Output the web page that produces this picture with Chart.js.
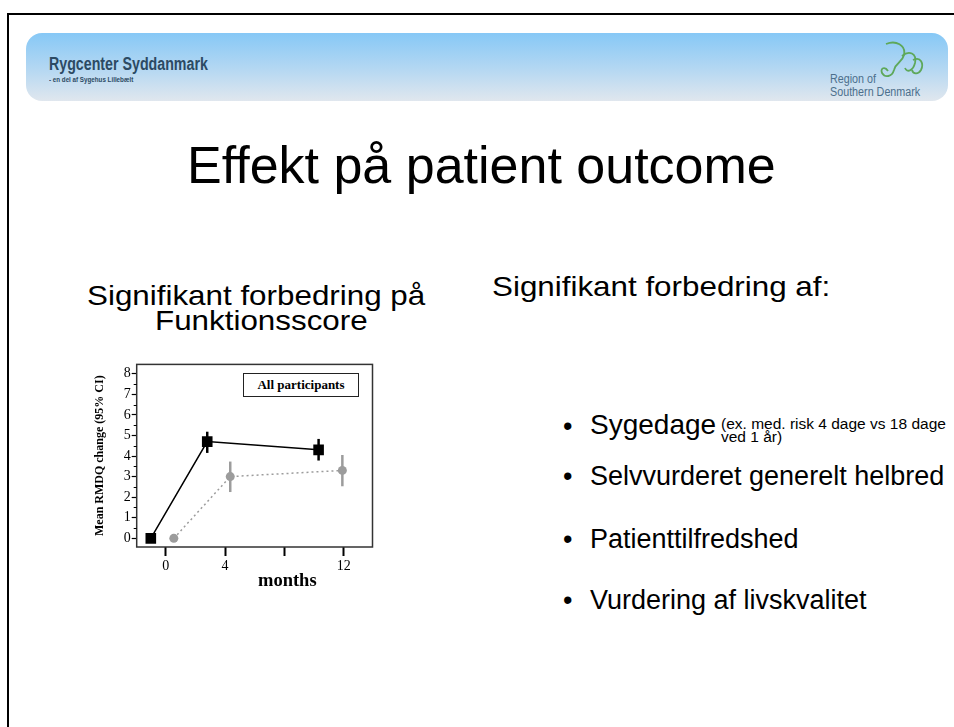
<!DOCTYPE html>
<html>
<head>
<meta charset="utf-8">
<script src="https://cdn.jsdelivr.net/npm/chart.js@4"></script>
<style>
  html, body { margin: 0; padding: 0; width: 954px; height: 727px; overflow: hidden; background: #fff; }
  body { position: relative; font-family: "Liberation Sans", Arial, sans-serif; color: #000; }
  .abs { position: absolute; white-space: nowrap; }
  .frame { position: absolute; left: 7px; top: 13px; width: 980px; height: 760px; border: 2px solid #000; }
  .banner {
    position: absolute; left: 26px; top: 33px; width: 922px; height: 68px; border-radius: 16px;
    background: linear-gradient(to bottom, #86c8f6 0%, #b6d8f2 55%, #e0e7ee 100%);
  }
  .sx { transform-origin: 0 0; }
  .head { font-size: 28px; line-height: 24px; transform: scaleX(1.12); transform-origin: 0 0; }
  .serif { font-family: "Liberation Serif", "Times New Roman", serif; font-weight: bold; }
</style>
</head>
<body>
<div class="frame"></div>
<div class="banner"></div>
<div class="abs sx" style="left:49px;top:54px;font-weight:bold;font-size:18px;line-height:20px;color:#2c4a63;transform:scaleX(0.79);">Rygcenter Syddanmark</div>
<div class="abs sx" style="left:49px;top:76px;font-weight:bold;font-size:6.5px;line-height:8px;color:#2c4a63;transform:scaleX(0.96);">- en del af Sygehus Lillebælt</div>
<div class="abs sx" style="left:830px;top:73px;font-size:12.5px;line-height:12px;color:#4c6f8c;transform:scaleX(0.86);">Region of</div>
<div class="abs sx" style="left:830px;top:86px;font-size:12.5px;line-height:12px;color:#4c6f8c;transform:scaleX(0.86);">Southern Denmark</div>
<svg class="abs" style="left:876px;top:40px" width="50" height="42" viewBox="0 0 50 42">
  <path d="M10 4 C20 0 30 5 28 15 C26 23 20 22 18 30 C16 37 9 38 6 33 C4 28 9 26 12 31" fill="none" stroke="#5ea85a" stroke-width="1.8"/>
  <path d="M26 16 C33 10 41 13 39 23 C37 31 31 33 29 28" fill="none" stroke="#5ea85a" stroke-width="1.8"/>
  <path d="M37 20 C45 16 48 24 45 30 C42 35 37 34 36 30" fill="none" stroke="#5ea85a" stroke-width="1.8"/>
</svg>

<div class="abs" style="left:187px;top:139px;font-size:52px;line-height:52px;">Effekt på patient outcome</div>

<div class="abs head" style="left:87px;top:284px;">Signifikant forbedring på</div>
<div class="abs head" style="left:155px;top:309px;">Funktionsscore</div>

<div class="abs head" style="left:492px;top:275px;">Signifikant forbedring af:</div>
<div class="abs" style="left:563px;top:412px;font-size:27px;line-height:28px;">•</div>
<div class="abs" style="left:590px;top:411px;font-size:28px;line-height:28px;">Sygedage</div>
<div class="abs" style="left:721px;top:418px;font-size:15.5px;line-height:12px;">(ex. med. risk 4 dage vs 18 dage</div>
<div class="abs" style="left:721px;top:431px;font-size:15.5px;line-height:12px;">ved 1 år)</div>
<div class="abs" style="left:563px;top:463px;font-size:27px;line-height:27px;">•</div>
<div class="abs" style="left:590px;top:463px;font-size:27px;line-height:27px;">Selvvurderet generelt helbred</div>
<div class="abs" style="left:563px;top:526px;font-size:27px;line-height:27px;">•</div>
<div class="abs" style="left:590px;top:526px;font-size:27px;line-height:27px;">Patienttilfredshed</div>
<div class="abs" style="left:563px;top:587px;font-size:27px;line-height:27px;">•</div>
<div class="abs" style="left:590px;top:587px;font-size:27px;line-height:27px;">Vurdering af livskvalitet</div>

<div class="abs" style="left:80px;top:355px;width:300px;height:240px;">
  <canvas id="rmdqChart" width="300" height="240"></canvas>
</div>
<div class="abs serif" style="left:243px;top:373px;width:114px;height:22px;border:1.5px solid #222;background:#fff;font-size:13px;line-height:22px;text-align:center;">All participants</div>
<div class="abs serif" style="left:258px;top:569px;font-size:18.5px;line-height:22px;">months</div>

<script>
// intervention group (black squares) - months offset slightly as in the figure
const blackX = [-1.0, 2.8, 10.3];
const blackY = [0, 4.7, 4.3];
const blackLo = [null, 4.15, 3.78];
const blackHi = [null, 5.18, 4.83];

// control group (grey circles)
const greyX = [0.55, 4.35, 11.9];
const greyY = [0, 3.0, 3.3];
const greyLo = [null, 2.25, 2.53];
const greyHi = [null, 3.73, 4.05];

const xTicks = [0, 4, 8, 12];
const xTickLabels = ['0', '4', '', '12'];
const yTicks = [0, 1, 2, 3, 4, 5, 6, 7, 8];

const toPoints = (xs, ys) => xs.map((x, i) => ({ x: x, y: ys[i] }));

// frame, minor y ticks and error bars
const extras = {
    id: 'extras',
    beforeDatasetsDraw(chart) {
        const c = chart.ctx;
        const a = chart.chartArea;
        const xs = chart.scales.x, ys = chart.scales.y;
        c.save();
        c.strokeStyle = '#333';
        c.lineWidth = 1.5;
        c.strokeRect(a.left, a.top, a.right - a.left, a.bottom - a.top);
        c.lineWidth = 1;
        c.strokeStyle = '#000';
        for (let v = 0.5; v < 8.4; v += 1) {
            const py = Math.round(ys.getPixelForValue(v)) + 0.5;
            c.beginPath();
            c.moveTo(a.left - 3, py);
            c.lineTo(a.left, py);
            c.stroke();
        }
        const bars = [
            [blackX, blackLo, blackHi, '#000'],
            [greyX, greyLo, greyHi, '#9c9c9c']
        ];
        c.lineWidth = 2.5;
        bars.forEach(([xv, lo, hi, col]) => {
            c.strokeStyle = col;
            xv.forEach((x, i) => {
                if (lo[i] == null) return;
                const px = xs.getPixelForValue(x);
                c.beginPath();
                c.moveTo(px, ys.getPixelForValue(lo[i]));
                c.lineTo(px, ys.getPixelForValue(hi[i]));
                c.stroke();
            });
        });
        c.restore();
    }
};

const ctx = document.getElementById('rmdqChart').getContext('2d');
const rmdqChart = new Chart(ctx, {
    type: 'line',
    data: {
        datasets: [{
            label: 'Intervention',
            data: toPoints(blackX, blackY),
            borderColor: '#000',
            backgroundColor: '#000',
            borderWidth: 1.5,
            pointStyle: 'rect',
            pointRadius: 7.5,
            pointBorderWidth: 0
        }, {
            label: 'Control',
            data: toPoints(greyX, greyY),
            borderColor: '#9c9c9c',
            backgroundColor: '#9c9c9c',
            borderWidth: 1.5,
            borderDash: [2, 3],
            pointStyle: 'circle',
            pointRadius: 4.5,
            pointBorderWidth: 0
        }]
    },
    options: {
        responsive: false,
        animation: false,
        layout: { padding: { left: 0, top: 8, right: 5, bottom: 0 } },
        plugins: {
            legend: { display: false },
            tooltip: { enabled: false }
        },
        scales: {
            x: {
                type: 'linear',
                min: -1.95,
                max: 13.93,
                afterBuildTicks: (scale) => { scale.ticks = xTicks.map(v => ({ value: v })); },
                afterFit: (scale) => { scale.height = 48; },
                grid: { drawOnChartArea: false, tickLength: 9, tickWidth: 2, tickColor: '#000' },
                border: { display: false },
                ticks: {
                    color: '#000',
                    padding: 2,
                    maxRotation: 0,
                    font: { family: 'Liberation Serif', size: 14 },
                    callback: (v) => xTickLabels[xTicks.indexOf(v)]
                }
            },
            y: {
                min: -0.42,
                max: 8.45,
                afterBuildTicks: (scale) => { scale.ticks = yTicks.map(v => ({ value: v })); },
                afterFit: (scale) => { scale.width = 56.7; },
                grid: { drawOnChartArea: false, tickLength: 5, tickWidth: 1.2, tickColor: '#000' },
                border: { display: false },
                ticks: {
                    color: '#000',
                    padding: 1,
                    font: { family: 'Liberation Serif', size: 14 }
                },
                title: {
                    display: true,
                    text: 'Mean RMDQ change (95% CI)',
                    color: '#000',
                    padding: { top: 13, bottom: 0 },
                    font: { family: 'Liberation Serif', size: 12, weight: 'bold' }
                }
            }
        }
    },
    plugins: [extras]
});
</script>
</body>
</html>
